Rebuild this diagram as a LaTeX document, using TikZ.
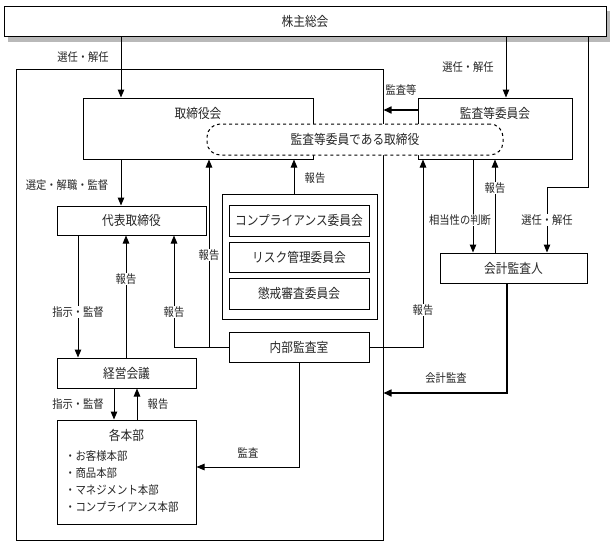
\documentclass[tikz,border=0pt]{standalone}
\usepackage{fontspec}
\setmainfont{Noto Sans CJK JP}[FakeStretch=0.88]
\usetikzlibrary{arrows.meta}
\newcommand\fsz[1]{\fontsize{#1}{#1}\selectfont}
\begin{document}
\begin{tikzpicture}[x=1pt,y=-1pt,
  box/.style={draw,line width=1pt,rectangle,inner sep=0pt,font=\fsz{13.3},text=black!85},
  plain/.style={draw,line width=1pt,rectangle,inner sep=0pt},
  lab/.style={font=\fsz{11.7},text=black!85,inner sep=1pt},
  wlab/.style={lab,fill=white},
  arr/.style={line width=1pt,-{Triangle[length=8pt,width=6.5pt]}},
  arrb/.style={line width=1.6pt,-{Triangle[length=8pt,width=7pt]}},
  ln/.style={line width=1pt}]
\useasboundingbox (0,0) rectangle (616,546);
% shareholders meeting with shadow
\fill[gray!55] (8,11) rectangle (610,42);
\node[box,fill=white,minimum width=602,minimum height=30] (sh) at (305,21) {株主総会};
% company boundary
\node[plain,minimum width=367,minimum height=471] (co) at (199.5,304.5) {};
% boards
\node[plain,minimum width=230,minimum height=61] (tb) at (198,128.5) {};
\node[lab,font=\fsz{13.3}] (tbl) at (198,113) {取締役会};
\node[plain,minimum width=154,minimum height=61] (kt) at (495,128.5) {};
\node[lab,font=\fsz{13.3}] (ktl) at (495,113) {監査等委員会};
\node[box,dashed,fill=white,rounded corners=13,minimum width=296,minimum height=31] (dk) at (355,139.5) {監査等委員である取締役};
% others
\node[box,minimum width=149,minimum height=29] (dr) at (131.5,220.5) {代表取締役};
\node[plain,minimum width=155,minimum height=125] (cm) at (299.5,256.5) {};
\node[box,minimum width=140,minimum height=31] (c1) at (299,220.5) {コンプライアンス委員会};
\node[box,minimum width=140,minimum height=30] (c2) at (299,257) {リスク管理委員会};
\node[box,minimum width=140,minimum height=31] (c3) at (299,293.5) {懲戒審査委員会};
\node[box,minimum width=147,minimum height=30] (ka) at (513.5,268) {会計監査人};
\node[box,minimum width=140,minimum height=30] (ia) at (299,347) {内部監査室};
\node[box,minimum width=139,minimum height=30] (km) at (126.5,373) {経営会議};
\node[plain,minimum width=139,minimum height=104] (hb) at (126.5,472) {};
\node[lab,font=\fsz{13.3}] (hbt) at (126.5,435) {各本部};
\node[lab,anchor=north west,inner sep=0pt,align=left,font={\fontsize{11.8}{17}\selectfont}] (hbi) at (65,450) {・お客様本部\\・商品本部\\・マネジメント本部\\・コンプライアンス本部};
% helper coordinates
\coordinate (x78) at (78,0);
\coordinate (x114) at (114,0);
\coordinate (x121) at (121,0);
\coordinate (x126) at (126,0);
\coordinate (x137) at (137,0);
\coordinate (x174) at (174,0);
\coordinate (x209) at (209,0);
\coordinate (x294) at (294,0);
\coordinate (x423) at (423,0);
\coordinate (x473) at (473,0);
\coordinate (x495) at (495,0);
\coordinate (x506) at (506,0);
\coordinate (x507) at (507,0);
\coordinate (y110) at (0,110);
\coordinate (y393) at (0,393);
\coordinate (y467) at (0,467);
\coordinate (r1) at (588,187);
\coordinate (r2) at (547,187);
% connectors
\draw[arr] (sh.south -| x121) -- (tb.north -| x121);
\draw[arr] (sh.south -| x506) -- (kt.north -| x506);
\draw[arr] (sh.south -| r1) -- (r1) -- (r2) -- (ka.north -| r2);
\draw[arrb] (kt.west |- y110) -- (co.east |- y110);
\draw[arr] (tb.south -| x121) -- (dr.north -| x121);
\draw[arr] (dr.south -| x78) -- (km.north -| x78);
\draw[arr] (km.north -| x126) -- (dr.south -| x126);
\draw[arr] (ia.west) -| (dr.south -| x174);
\draw[arr] (ia.west -| x209) -- (tb.south -| x209);
\draw[arr] (cm.north -| x294) -- (tb.south -| x294);
\draw[arr] (ia.east) -| (kt.south -| x423);
\draw[arr] (kt.south -| x473) -- (ka.north -| x473);
\draw[arr] (ka.north -| x495) -- (kt.south -| x495);
\draw[arrb] (ka.south -| x507) |- (co.east |- y393);
\draw[arr] (km.south -| x114) -- (hb.north -| x114);
\draw[arr] (hb.north -| x137) -- (km.south -| x137);
\draw[arr] (ia.south) |- (hb.east |- y467);
% labels
\node[lab] (l1) at (83,57) {選任・解任};
\node[lab] (l2) at (468,67) {選任・解任};
\node[lab] (l3) at (401,90) {監査等};
\node[lab] (l4) at (67,185) {選定・解職・監督};
\node[lab] (l5) at (315,178) {報告};
\node[wlab] (l6) at (209,255) {報告};
\node[wlab] (l7) at (126,279) {報告};
\node[wlab] (l8) at (78,312) {指示・監督};
\node[wlab] (l9) at (174,312) {報告};
\node[wlab] (l10) at (423,310) {報告};
\node[wlab] (l11) at (495,188) {報告};
\node[wlab] (l12) at (460,220) {相当性の判断};
\node[wlab] (l13) at (547,220) {選任・解任};
\node[lab] (l14) at (446,378) {会計監査};
\node[lab] (l15) at (248,453) {監査};
\node[lab] (l16) at (78,404) {指示・監督};
\node[lab] (l17) at (158,404) {報告};
\end{tikzpicture}
\end{document}
